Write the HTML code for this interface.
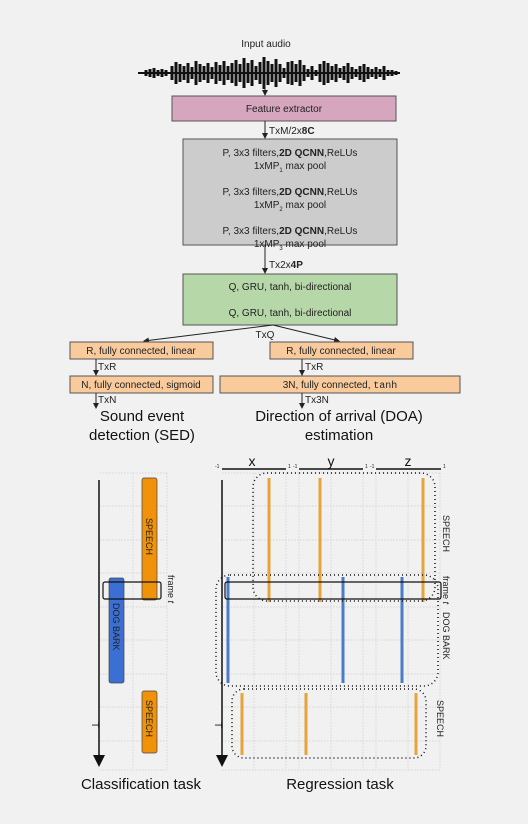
<!DOCTYPE html>
<html><head><meta charset="utf-8"><style>
html,body{margin:0;padding:0;background:#f1f1f1;}
svg{display:block;font-family:"Liberation Sans",sans-serif;}
</style></head><body>
<svg width="528" height="824" viewBox="0 0 528 824" xmlns="http://www.w3.org/2000/svg">
<defs>
<marker id="ah" markerWidth="6" markerHeight="6" refX="5" refY="3" orient="auto" markerUnits="userSpaceOnUse"><path d="M0,0 L6,3 L0,6 z" fill="#222"/></marker>
<marker id="ab" markerWidth="12" markerHeight="12" refX="10" refY="6" orient="auto" markerUnits="userSpaceOnUse"><path d="M0,0 L12,6 L0,12 z" fill="#111"/></marker>
</defs>
<rect width="528" height="824" fill="#f1f1f1"/>
<text x="266" y="47" font-size="10" text-anchor="middle" fill="#222">Input audio</text>
<g stroke="#111" stroke-width="3">
<line x1="138" y1="73" x2="400" y2="73" stroke-width="2"/>
<path d="M146,70v6 M150,69v8 M154,68v10 M158,70v6 M162,69v8 M166,70v6 M172,66v14 M176,62v22 M180,64v18 M184,66v14 M188,63v20 M192,67v12 M196,61v24 M200,64v18 M204,66v14 M208,63v20 M212,67v12 M216,62v22 M220,65v16 M224,61v24 M228,66v14 M232,63v20 M236,60v26 M240,64v18 M244,58v30 M248,63v20 M252,60v26 M256,66v14 M260,62v22 M264,57v32 M268,61v24 M272,64v18 M276,59v28 M280,64v18 M284,68v10 M288,62v22 M292,61v24 M296,64v18 M300,60v26 M304,65v16 M308,69v8 M312,66v14 M316,70v6 M320,64v18 M324,61v24 M328,63v20 M332,66v14 M336,64v18 M340,68v10 M344,66v14 M348,63v20 M352,67v12 M356,69v8 M360,66v14 M364,64v18 M368,67v12 M372,69v8 M376,67v12 M380,69v8 M384,66v14 M388,70v6 M392,70v6 M396,71v4"/>
</g>
<line x1="265" y1="84" x2="265" y2="95" stroke="#222" marker-end="url(#ah)"/>
<rect x="172" y="96" width="224" height="25" fill="#d5a6bd" stroke="#555"/>
<text x="284" y="112" font-size="10" text-anchor="middle" fill="#222">Feature extractor</text>
<line x1="265" y1="121" x2="265" y2="138" stroke="#222" marker-end="url(#ah)"/>
<text x="269" y="134" font-size="10" fill="#222">TxM/2x<tspan font-weight="bold">8C</tspan></text>
<rect x="183" y="139" width="214" height="106" fill="#cccccc" stroke="#555"/>
<g font-size="10" text-anchor="middle" fill="#222">
<text x="290" y="156">P, 3x3 filters,<tspan font-weight="bold">2D QCNN</tspan>,ReLUs</text>
<text x="290" y="169">1xMP<tspan font-size="6" dy="3">1</tspan><tspan dy="-3"> max pool</tspan></text>
<text x="290" y="195">P, 3x3 filters,<tspan font-weight="bold">2D QCNN</tspan>,ReLUs</text>
<text x="290" y="208">1xMP<tspan font-size="6" dy="3">2</tspan><tspan dy="-3"> max pool</tspan></text>
<text x="290" y="234">P, 3x3 filters,<tspan font-weight="bold">2D QCNN</tspan>,ReLUs</text>
<text x="290" y="247">1xMP<tspan font-size="6" dy="3">3</tspan><tspan dy="-3"> max pool</tspan></text>
</g>
<line x1="265" y1="245" x2="265" y2="273" stroke="#222" marker-end="url(#ah)"/>
<text x="269" y="268" font-size="10" fill="#222">Tx2x<tspan font-weight="bold">4P</tspan></text>
<rect x="183" y="274" width="214" height="51" fill="#b6d7a8" stroke="#555"/>
<text x="290" y="290" font-size="10" text-anchor="middle" fill="#222">Q, GRU, tanh, bi-directional</text>
<text x="290" y="316" font-size="10" text-anchor="middle" fill="#222">Q, GRU, tanh, bi-directional</text>
<line x1="273" y1="325" x2="144" y2="341" stroke="#222" marker-end="url(#ah)"/>
<line x1="273" y1="325" x2="339" y2="341" stroke="#222" marker-end="url(#ah)"/>
<text x="265" y="338" font-size="10" text-anchor="middle" fill="#222">TxQ</text>
<g fill="#f9cb9c" stroke="#555">
<rect x="70" y="342" width="143" height="17"/>
<rect x="270" y="342" width="143" height="17"/>
<rect x="70" y="376" width="143" height="17"/>
<rect x="220" y="376" width="240" height="17"/>
</g>
<g font-size="10" fill="#222">
<text x="141" y="354" text-anchor="middle">R, fully connected, linear</text>
<text x="341" y="354" text-anchor="middle">R, fully connected, linear</text>
<text x="141" y="388" text-anchor="middle">N, fully connected, sigmoid</text>
<text x="340" y="388" text-anchor="middle">3N, fully connected, <tspan font-family="Liberation Mono">tanh</tspan></text>
<text x="98" y="370">TxR</text>
<text x="305" y="370">TxR</text>
<text x="98" y="403">TxN</text>
<text x="305" y="403">Tx3N</text>
</g>
<g stroke="#222">
<line x1="96" y1="359" x2="96" y2="375" marker-end="url(#ah)"/>
<line x1="302" y1="359" x2="302" y2="375" marker-end="url(#ah)"/>
<line x1="96" y1="393" x2="96" y2="408" marker-end="url(#ah)"/>
<line x1="302" y1="393" x2="302" y2="408" marker-end="url(#ah)"/>
</g>
<g font-size="15" fill="#111" text-anchor="middle">
<text x="142" y="421">Sound event</text>
<text x="142" y="440">detection (SED)</text>
<text x="339" y="421">Direction of arrival (DOA)</text>
<text x="339" y="440">estimation</text>
</g>
<g stroke="#ccc" stroke-width="0.7" stroke-dasharray="1.5,1.5" fill="none">
<path d="M100,473 H167 M100,506 H167 M100,540 H167 M100,573 H167 M100,607 H167 M100,640 H167 M100,674 H167 M100,707 H167 M100,741 H167 M100,770 H167 M133,473 V770 M167,473 V770"/>
<path d="M222,473 H440 M222,506 H440 M222,540 H440 M222,573 H440 M222,607 H440 M222,640 H440 M222,674 H440 M222,707 H440 M222,741 H440 M222,770 H440 M254,473V770 M286,473V770 M299,473V770 M331,473V770 M363,473V770 M376,473V770 M408,473V770 M440,473V770"/>
</g>
<line x1="99" y1="480" x2="99" y2="765" stroke="#111" stroke-width="1.5" marker-end="url(#ab)"/>
<text x="92" y="722" font-size="10" transform="rotate(90 92 722)" fill="#111">T</text>
<rect x="142" y="478" width="15" height="122" rx="2" fill="#f0920a" stroke="#444" stroke-width="0.7"/>
<rect x="109" y="578" width="15" height="105" rx="2" fill="#3b6fd4" stroke="#444" stroke-width="0.7"/>
<rect x="142" y="691" width="15" height="62" rx="2" fill="#f0920a" stroke="#444" stroke-width="0.7"/>
<rect x="103" y="582" width="58" height="17" rx="2" fill="none" stroke="#111" stroke-width="1.2"/>
<g font-size="9" fill="#222">
<text transform="translate(146,518) rotate(90)">SPEECH</text>
<text transform="translate(113,603) rotate(90)">DOG BARK</text>
<text transform="translate(146,700) rotate(90)">SPEECH</text>
<text transform="translate(168,575) rotate(90)">frame <tspan font-style="italic">t</tspan></text>
</g>
<g font-size="14" fill="#111" text-anchor="middle">
<text x="252" y="466">x</text><text x="331" y="466">y</text><text x="408" y="466">z</text>
</g>
<g stroke="#111" stroke-width="1.5">
<line x1="222" y1="469" x2="286" y2="469"/><line x1="299" y1="469" x2="363" y2="469"/><line x1="376" y1="469" x2="441" y2="469"/>
</g>
<g font-size="5" fill="#222">
<text x="215" y="468">-1</text><text x="288" y="468">1</text><text x="293" y="468">-1</text><text x="365" y="468">1</text><text x="370" y="468">-1</text><text x="443" y="468">1</text>
</g>
<line x1="222" y1="480" x2="222" y2="765" stroke="#111" stroke-width="1.5" marker-end="url(#ab)"/>
<text x="215" y="722" font-size="10" transform="rotate(90 215 722)" fill="#111">T</text>
<g stroke="#e8a33a" stroke-width="3">
<line x1="269" y1="478" x2="269" y2="602"/><line x1="320" y1="478" x2="320" y2="602"/><line x1="423" y1="478" x2="423" y2="602"/>
<line x1="242" y1="693" x2="242" y2="755"/><line x1="306" y1="693" x2="306" y2="755"/><line x1="416" y1="693" x2="416" y2="755"/>
</g>
<g stroke="#4a7cc9" stroke-width="3">
<line x1="228" y1="577" x2="228" y2="683"/><line x1="343" y1="577" x2="343" y2="683"/><line x1="402" y1="577" x2="402" y2="683"/>
</g>
<rect x="225" y="582" width="216" height="17" rx="2" fill="none" stroke="#111" stroke-width="1.2"/>
<g fill="none" stroke="#111" stroke-width="1.5" stroke-dasharray="1,3">
<rect x="253" y="473" width="182" height="128" rx="14"/>
<rect x="216" y="575" width="222" height="111" rx="14"/>
<rect x="232" y="689" width="194" height="69" rx="12"/>
</g>
<g font-size="9" fill="#222">
<text transform="translate(443,515) rotate(90)">SPEECH</text>
<text transform="translate(443,576) rotate(90)">frame <tspan font-style="italic">t</tspan></text>
<text transform="translate(443,612) rotate(90)">DOG BARK</text>
<text transform="translate(437,700) rotate(90)">SPEECH</text>
</g>
<g font-size="15" fill="#111" text-anchor="middle">
<text x="141" y="789">Classification task</text>
<text x="340" y="789">Regression task</text>
</g>
</svg>
</body></html>
